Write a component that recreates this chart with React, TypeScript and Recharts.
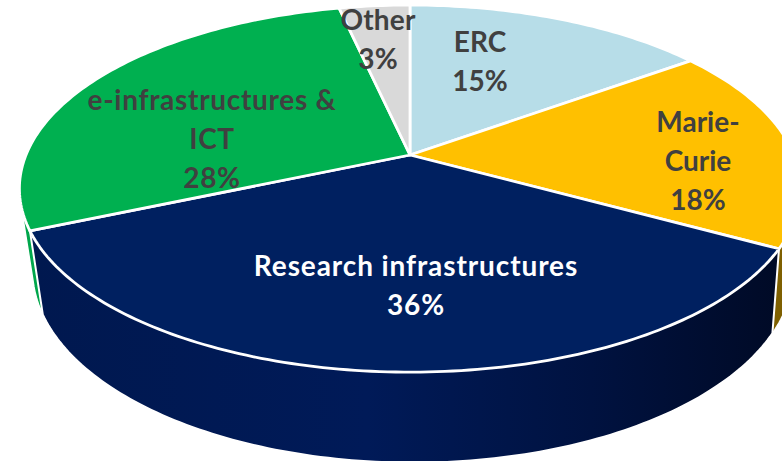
import React from 'react';
import { PieChart, Pie, Cell } from 'recharts';

const categories = ['ERC', 'Marie-\nCurie', 'Research infrastructures', 'e-infrastructures &\nICT', 'Other'];
const shares = [15, 18, 35.5, 28, 3.49];
const topColors = ['#B7DDE8', '#FFC000', '#002060', '#00B050', '#D9D9D9'];
const wallColors = ['#8FB4BF', '#7F6000', 'url(#frontWall)', '#00A64B', '#A8A8A8'];
const labelColors = ['#404040', '#404040', '#FFFFFF', '#404040', '#404040'];
// Label anchor relative to the pie centre (layout only)
const labelOffsets = [[70, -94], [288, 6], [6, 130], [-198, -16], [-32, -116]];
const labelSpacing = [0, 0, 0.9, 0.7, 0.2];

const data = categories.map((name, i) => ({ name, value: shares[i] }));

const WIDTH = 782;
const HEIGHT = 461;
const CX = 410;
const CY = 155;
const RADIUS = 384;
const TILT = 177.4;
const PERSPECTIVE = 0.183;
const BASE_RADIUS = 374;
const BASE_TILT = 186;
const BASE_DROP = 80;
const BASE_SHIFT = 3;

type P = [number, number];

// recharts angle (counter-clockwise, 90 = top) to a point on the tilted disc
const project = (deg: number, cx: number, cy: number, r: number, tilt: number): P => {
  const a = (deg * Math.PI) / 180;
  const u = Math.cos(a);
  const v = Math.sin(a);
  const d = 1 + PERSPECTIVE * v;
  return [cx + (r * u) / d, cy - (tilt * v) / d];
};

const arc = (start: number, end: number, cx: number, cy: number, r: number, tilt: number): P[] => {
  const n = Math.max(2, Math.ceil(Math.abs(end - start)));
  const pts: P[] = [];
  for (let i = 0; i <= n; i++) pts.push(project(start + ((end - start) * i) / n, cx, cy, r, tilt));
  return pts;
};

const hull = (input: P[]): P[] => {
  const pts = [...input].sort((p, q) => p[0] - q[0] || p[1] - q[1]);
  const cross = (o: P, a: P, b: P) => (a[0] - o[0]) * (b[1] - o[1]) - (a[1] - o[1]) * (b[0] - o[0]);
  const build = (list: P[]) => {
    const out: P[] = [];
    for (const p of list) {
      while (out.length >= 2 && cross(out[out.length - 2], out[out.length - 1], p) <= 0) out.pop();
      out.push(p);
    }
    out.pop();
    return out;
  };
  return [...build(pts), ...build([...pts].reverse())];
};

const toPath = (pts: P[]) => 'M' + pts.map((p) => `${p[0].toFixed(2)},${p[1].toFixed(2)}`).join('L') + 'Z';

const isFront = (p: any) => {
  const lo = Math.min(p.startAngle, p.endAngle);
  const hi = Math.max(p.startAngle, p.endAngle);
  return (lo <= -90 && hi >= -90) || (lo <= 270 && hi >= 270);
};

const wallPath = (p: any) => {
  const top = arc(p.startAngle, p.endAngle, p.cx, p.cy, p.outerRadius, TILT);
  const base = arc(p.startAngle, p.endAngle, p.cx + BASE_SHIFT, p.cy + BASE_DROP, BASE_RADIUS, BASE_TILT);
  return toPath(hull([...top, ...base]));
};

const BackWall = (p: any) =>
  isFront(p) ? <g /> : <path d={wallPath(p)} fill={p.fill} stroke="#FFFFFF" strokeWidth={1.5} />;

const FrontWall = (p: any) =>
  isFront(p) ? <path d={wallPath(p)} fill={p.fill} stroke="#FFFFFF" strokeWidth={2} /> : <g />;

const TopFace = (p: any) => {
  const pts = arc(p.startAngle, p.endAngle, p.cx, p.cy, p.outerRadius, TILT);
  return <path d={toPath([[p.cx, p.cy], ...pts])} fill={p.fill} stroke="#FFFFFF" strokeWidth={2.8} strokeLinejoin="round" />;
};

const SliceLabel = (p: any) => {
  const [dx, dy] = labelOffsets[p.index];
  const lines = [...String(p.name).split('\n'), `${Math.round(p.percent * 100)}%`];
  const lineHeight = 39;
  return (
    <text
      x={p.cx + dx}
      y={p.cy + dy}
      textAnchor="middle"
      fontFamily="Lato, sans-serif"
      fontWeight={700}
      fontSize={28}
      letterSpacing={labelSpacing[p.index]}
      fill={labelColors[p.index]}
    >
      {lines.map((line, i) => (
        <tspan key={i} x={p.cx + dx} y={p.cy + dy + (i - (lines.length - 1) / 2) * lineHeight + 10}>
          {line}
        </tspan>
      ))}
    </text>
  );
};

const sharedPie = {
  data,
  dataKey: 'value',
  nameKey: 'name',
  cx: CX,
  cy: CY,
  innerRadius: 0,
  outerRadius: RADIUS,
  startAngle: 90,
  endAngle: -270,
  paddingAngle: 0,
  isAnimationActive: false,
  legendType: 'none' as const,
};

export default function App() {
  return (
    <div style={{ position: 'absolute', left: 0, top: 0, width: WIDTH, height: HEIGHT, overflow: 'hidden', background: '#FFFFFF' }}>
      <PieChart width={WIDTH} height={HEIGHT} margin={{ top: 0, right: 0, bottom: 0, left: 0 }}>
        <defs>
          <linearGradient id="frontWall" x1="0" y1="0" x2="1" y2="0">
            <stop offset="0%" stopColor="#00184F" />
            <stop offset="45%" stopColor="#001A58" />
            <stop offset="75%" stopColor="#001240" />
            <stop offset="100%" stopColor="#000A26" />
          </linearGradient>
        </defs>
        <Pie {...sharedPie} shape={BackWall} label={false} rootTabIndex={-1}>
          {data.map((d, i) => <Cell key={d.name} fill={wallColors[i]} />)}
        </Pie>
        <Pie {...sharedPie} shape={FrontWall} label={false} rootTabIndex={-1}>
          {data.map((d, i) => <Cell key={d.name} fill={wallColors[i]} />)}
        </Pie>
        <Pie {...sharedPie} shape={TopFace} label={SliceLabel} labelLine={false} rootTabIndex={-1}>
          {data.map((d, i) => <Cell key={d.name} fill={topColors[i]} />)}
        </Pie>
      </PieChart>
    </div>
  );
}
